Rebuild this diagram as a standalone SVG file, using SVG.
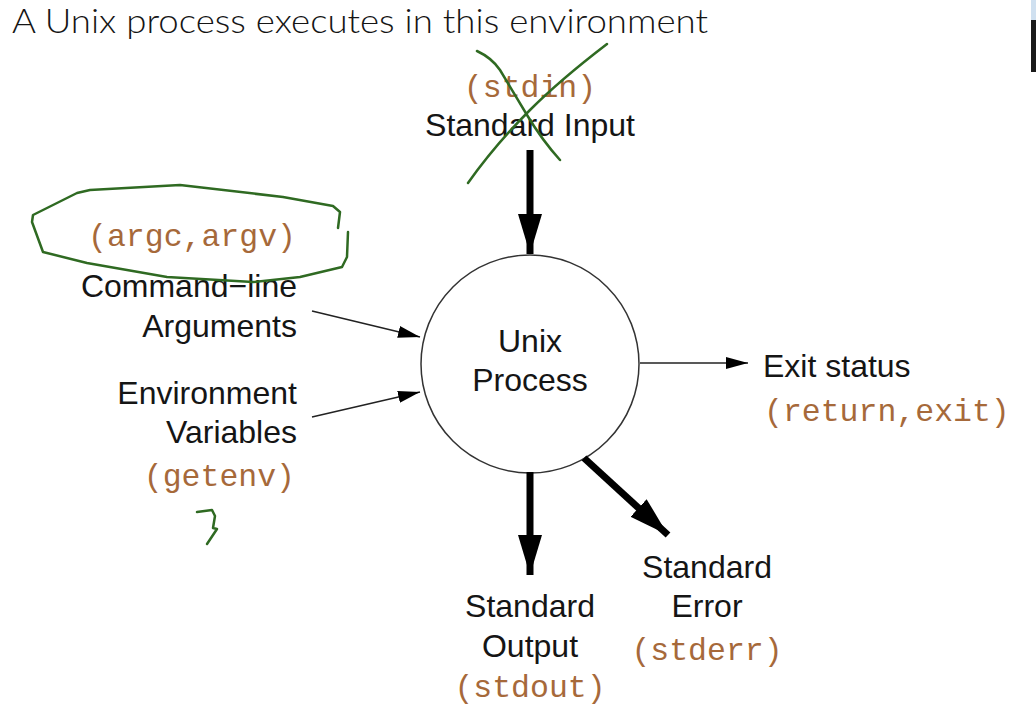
<svg xmlns="http://www.w3.org/2000/svg" width="1036" height="728" viewBox="0 0 1036 728">
<defs>
<style>
.t{font-family:"Liberation Sans",Arial,sans-serif;font-size:32px;fill:#151515}
.m{font-family:"Liberation Mono","Courier New",monospace;font-size:31.5px;fill:#a6693a}
.ttl{font-family:Lato,"DejaVu Sans",sans-serif;font-size:33px;font-weight:300;fill:#151515}
.thin{stroke:#222;stroke-width:1.5;fill:none}
.thick{stroke:#000;stroke-width:7;fill:none}
.ink{stroke:#2f6a22;stroke-width:2.5;fill:none;stroke-linecap:round;stroke-linejoin:round}
</style>
<marker id="ah" markerWidth="22" markerHeight="12" refX="22" refY="6" orient="auto" markerUnits="userSpaceOnUse">
<path d="M0,0 L22,6 L0,12 Z" fill="#000"/>
</marker>
<marker id="ahb" markerWidth="40" markerHeight="24" refX="40" refY="12" orient="auto" markerUnits="userSpaceOnUse">
<path d="M0,0 L40,12 L0,24 Z" fill="#000"/>
</marker>
</defs>
<rect width="1036" height="728" fill="#fff"/>
<text class="ttl" x="12" y="33" textLength="696" lengthAdjust="spacingAndGlyphs">A Unix process executes in this environment</text>
<rect x="1031" y="0" width="5" height="20" fill="#cfe0f0"/>
<rect x="1031" y="20" width="5" height="52" fill="#1a1a1a"/>

<g id="process">
<circle cx="530" cy="364" r="109" fill="#fff" stroke="#333" stroke-width="1.5"/>
<text class="t" x="530" y="352" text-anchor="middle">Unix</text>
<text class="t" x="530" y="391" text-anchor="middle">Process</text>
</g>
<g id="stdin">
<text class="m" x="530" y="97" text-anchor="middle">(stdin)</text>
<text class="t" x="530" y="136" text-anchor="middle">Standard Input</text>
</g>
<g id="args">
<text class="m" x="192" y="246" text-anchor="middle">(argc,argv)</text>
<text class="t" x="297" y="297" text-anchor="end">Command−line</text>
<text class="t" x="297" y="337" text-anchor="end">Arguments</text>
</g>
<g id="env">
<text class="t" x="297" y="404" text-anchor="end">Environment</text>
<text class="t" x="297" y="443" text-anchor="end">Variables</text>
<text class="m" x="295" y="486" text-anchor="end">(getenv)</text>
</g>
<g id="exit">
<text class="t" x="763" y="377">Exit status</text>
<text class="m" x="764" y="421">(return,exit)</text>
</g>
<g id="stdout">
<text class="t" x="530" y="617" text-anchor="middle">Standard</text>
<text class="t" x="530" y="657" text-anchor="middle">Output</text>
<text class="m" x="530" y="697" text-anchor="middle">(stdout)</text>
</g>
<g id="stderr">
<text class="t" x="707" y="578" text-anchor="middle">Standard</text>
<text class="t" x="707" y="617" text-anchor="middle">Error</text>
<text class="m" x="707" y="660" text-anchor="middle">(stderr)</text>
</g>
<g id="connectors">
<line class="thick" x1="530" y1="150" x2="530" y2="254" marker-end="url(#ahb)"/>
<line class="thin" x1="312" y1="311" x2="420" y2="337" marker-end="url(#ah)"/>
<line class="thin" x1="312" y1="417" x2="420" y2="392" marker-end="url(#ah)"/>
<line class="thin" x1="640" y1="363" x2="748" y2="363" marker-end="url(#ah)"/>
<line class="thick" x1="530" y1="472" x2="530" y2="575" marker-end="url(#ahb)"/>
<line class="thick" x1="584" y1="458" x2="668" y2="535" marker-end="url(#ahb)"/>
</g>
<g id="annotations">
<path class="ink" d="M477,51 Q492,58 500,70 Q515,95 527,115 Q542,140 560,160"/>
<path class="ink" d="M607,44 Q560,80 530,110 Q495,145 468,183"/>
<path class="ink" d="M338,228 L340,212 L333,206 L283,197 L180,185 L90,190 L77,193 L33,215 L32,222 L43,252 L87,263 L167,277 L253,282 L300,277 L342,267 L347,257 L348,232"/>
<path class="ink" d="M197,512 L212,510 L215,516 L213,528 L217,529 L207,544"/>
</g>
</svg>
